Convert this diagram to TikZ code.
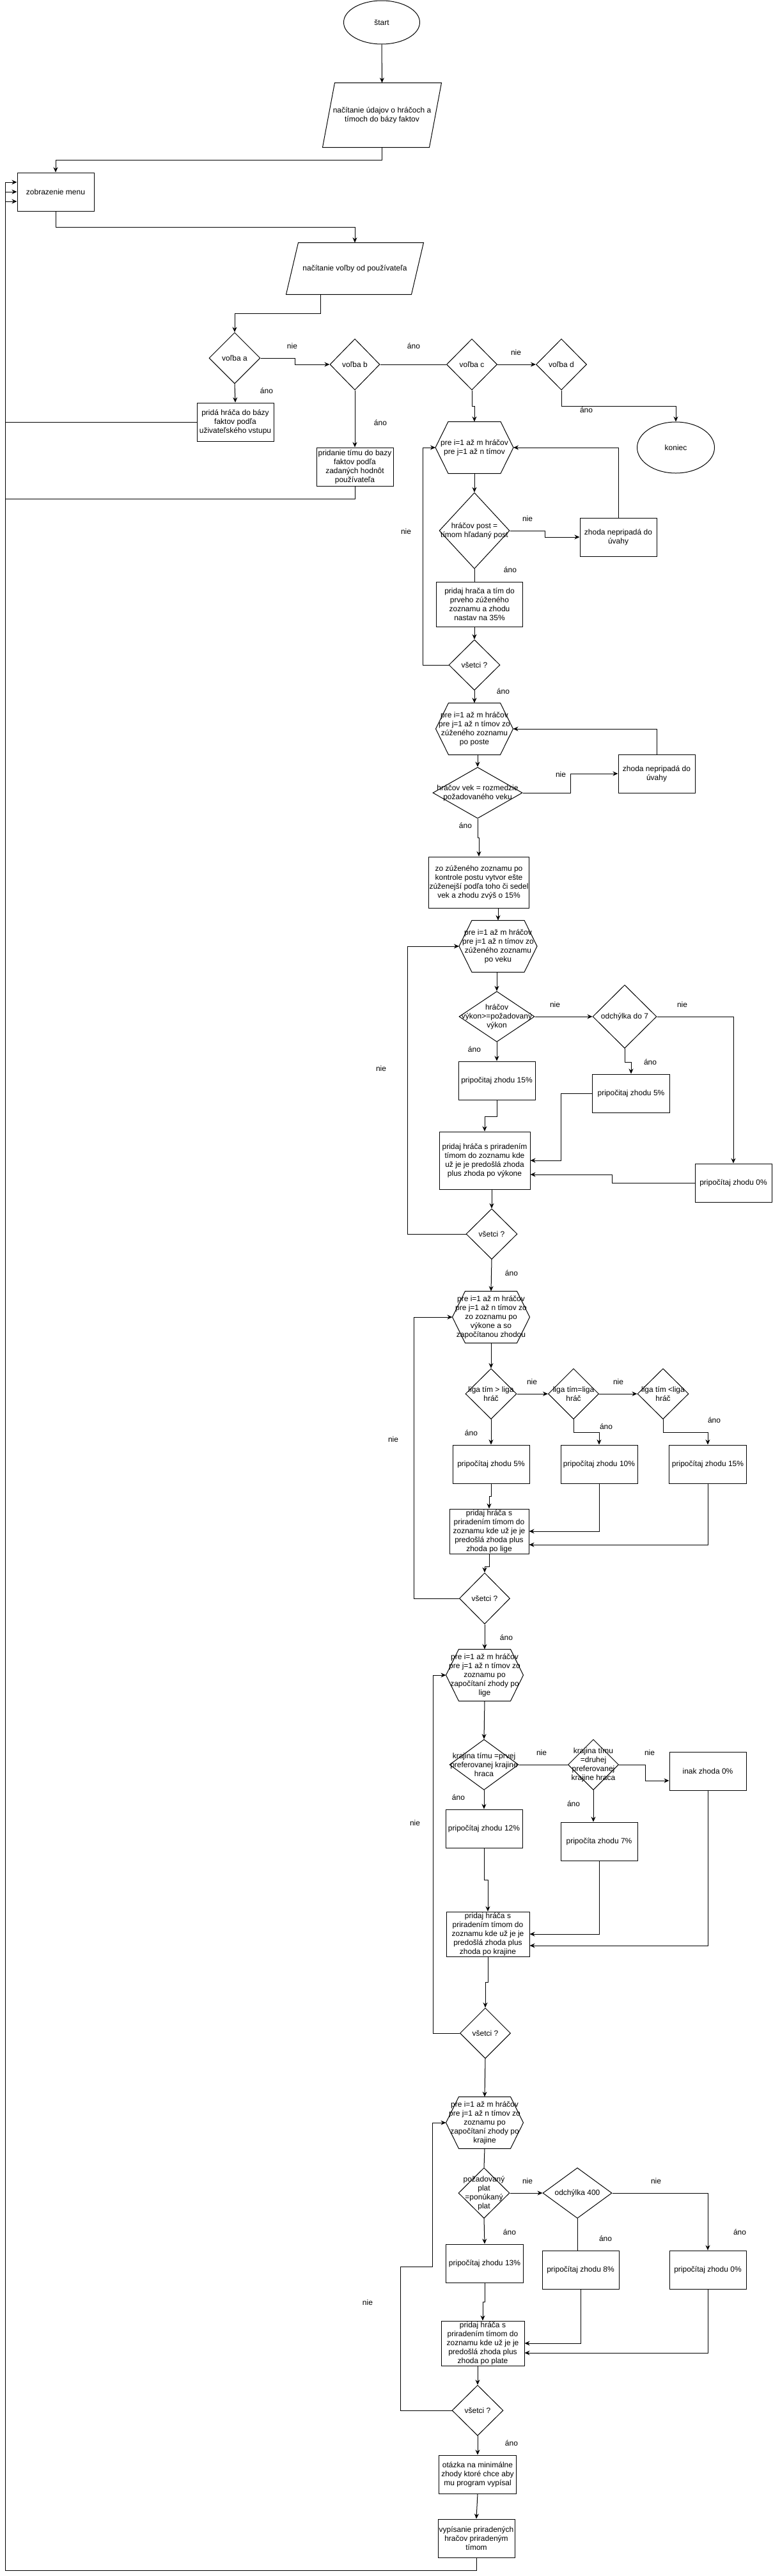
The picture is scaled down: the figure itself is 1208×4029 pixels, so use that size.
\documentclass[tikz,border=0pt]{standalone}
\usepackage{fontspec}
\setmainfont{Liberation Sans}
\usetikzlibrary{shapes.geometric,arrows.meta}
\newcommand\bx[6]{\node[#1,minimum width=#4pt,minimum height=#5pt,label={[txt]center:{#6}}] (#2) at (#3) {};}
\newcommand\hexd[1]{\draw (#1.west) -- ([xshift=20pt]#1.north west) -- ([xshift=-20pt]#1.north east) -- (#1.east) -- ([xshift=-20pt]#1.south east) -- ([xshift=20pt]#1.south west) -- cycle;}
\newcommand\parad[1]{\draw ([xshift=19pt]#1.north west) -- (#1.north east) -- ([xshift=-19pt]#1.south east) -- (#1.south west) -- cycle;}
\begin{document}
\begin{tikzpicture}[x=1pt,y=-1pt,
  font=\fontsize{12}{14}\selectfont,
  line width=1pt,
  arr/.style={-{Stealth[length=8pt,width=7pt]}},
  box/.style={draw,rectangle,inner sep=0pt},
  dia/.style={draw,diamond,inner sep=0pt},
  ell/.style={draw,ellipse,inner sep=0pt},
  ghost/.style={rectangle,inner sep=0pt},
  txt/.style={align=center,inner sep=0pt},
  lab/.style={inner sep=0pt}]
\useasboundingbox (0,0) rectangle (1208,4029);

% ---- nodes ----
\bx{ell}{start}{597,35}{119}{68}{štart}
\bx{ghost}{p1}{597.5,180}{185}{100}{načítanie údajov o hráčoch a\\tímoch do bázy faktov}\parad{p1}
\bx{box}{menu}{87,300}{120}{60}{zobrazenie menu}
\bx{ghost}{p2}{555,420}{214}{80}{načítanie voľby od používateľa}\parad{p2}
\bx{dia}{da}{367,560}{80}{80}{voľba a}
\bx{dia}{db}{555,570}{78}{80}{voľba b}
\bx{dia}{dc}{738,570}{79}{80}{voľba c}
\bx{dia}{dd}{878,570}{79}{80}{voľba d}
\bx{ell}{koniec}{1057,700}{121}{80}{koniec}
\bx{box}{pridaH}{368,660}{120}{60}{pridá hráča do bázy\\faktov podľa\\uživateľského vstupu}
\bx{box}{pridaT}{555,730}{120}{60}{pridanie tímu do bazy\\faktov podľa\\zadaných hodnôt\\používateľa}
\bx{ghost}{h1}{742,700}{121}{80}{pre i=1 až m hráčov\\pre j=1 až n tímov}\hexd{h1}
\bx{dia}{dpost}{742,830}{110}{119}{hráčov post =\\tímom hľadaný post}
\bx{box}{z1}{967,840}{120}{60}{zhoda nepripadá do\\úvahy}
\bx{box}{add35}{750,945}{135}{70}{pridaj hrača a tím do\\prveho zúženého\\zoznamu a zhodu\\nastav na 35\%}
\bx{dia}{all1}{742,1040}{80}{79}{všetci ?}
\bx{ghost}{h2}{742,1140}{120}{80}{pre i=1 až m hráčov\\pre j=1 až n tímov zo\\zúženého zoznamu\\po poste}\hexd{h2}
\bx{dia}{dvek}{747,1240}{140}{80}{hráčov vek = rozmedzie\\požadovaného veku}
\bx{box}{z2}{1027,1210}{120}{60}{zhoda nepripadá do\\úvahy}
\bx{box}{narrow}{749,1380}{157}{80}{zo zúženého zoznamu po\\kontrole postu vytvor ešte\\zúženejší podľa toho či sedel\\vek a zhodu zvýš o 15\%}
\bx{ghost}{h3}{779,1480}{121}{80}{pre i=1 až m hráčov\\pre j=1 až n tímov zo\\zúženého zoznamu\\po veku}\hexd{h3}
\bx{dia}{dvyk}{777,1590}{118}{79}{hráčov\\výkon>=požadovaný\\výkon}
\bx{dia}{dodch}{977,1590}{100}{99}{odchýlka do 7}
\bx{box}{v15}{777,1690}{120}{60}{pripočitaj zhodu 15\%}
\bx{box}{v5}{987,1710}{121}{60}{pripočitaj zhodu 5\%}
\bx{box}{v0}{1147,1850}{120}{60}{pripočítaj zhodu 0\%}
\bx{box}{addV}{758,1815}{142}{90}{pridaj hráča s priradením\\tímom do zoznamu kde\\už je  je predošlá zhoda\\plus zhoda po výkone}
\bx{dia}{all2}{769,1930}{80}{79}{všetci ?}
\bx{ghost}{h4}{768,2060}{120}{80}{pre i=1 až m hráčov\\pre j=1 až n tímov zo\\zo zoznamu po\\výkone a so\\započítanou zhodou}\hexd{h4}
\bx{dia}{dl1}{768,2180}{80}{79}{liga tím > liga\\hráč}
\bx{dia}{dl2}{897,2180}{79}{79}{liga tím=liga\\hráč}
\bx{dia}{dl3}{1037,2180}{80}{79}{liga tím <liga\\hráč}
\bx{box}{l5}{768,2290}{120}{60}{pripočítaj zhodu 5\%}
\bx{box}{l10}{937,2290}{120}{60}{pripočítaj zhodu 10\%}
\bx{box}{l15}{1107,2290}{121}{60}{pripočítaj zhodu 15\%}
\bx{box}{addL}{765,2395}{124}{70}{pridaj hráča s\\priradením tímom do\\zoznamu kde už je  je\\predošlá zhoda plus\\zhoda po lige}
\bx{dia}{all3}{758,2500}{79}{80}{všetci ?}
\bx{ghost}{h5}{758,2620}{120}{80}{pre i=1 až m hráčov\\pre j=1 až n tímov zo\\zoznamu po\\započítaní zhody po\\lige}\hexd{h5}
\bx{dia}{dk1}{757,2760}{108}{79}{krajina tímu =prvej\\preferovanej krajine\\hraca}
\bx{dia}{dk2}{928,2760}{79}{79}{krajina tímu\\=druhej\\preferovanej\\krajine hraca}
\bx{box}{k0}{1107,2770}{120}{60}{inak zhoda 0\%}
\bx{box}{k12}{757,2860}{120}{60}{pripočítaj zhodu 12\%}
\bx{box}{k7}{937,2880}{120}{60}{pripočíta zhodu 7\%}
\bx{box}{addK}{763,3025}{130}{70}{pridaj hráča s\\priradením tímom do\\zoznamu kde už je  je\\predošlá zhoda plus\\zhoda po krajine}
\bx{dia}{all4}{759,3180}{79}{79}{všetci ?}
\bx{ghost}{h6}{758,3320}{120}{80}{pre i=1 až m hráčov\\pre j=1 až n tímov zo\\zoznamu po\\započítaní zhody po\\krajine}\hexd{h6}
\bx{dia}{dplat}{757,3430}{80}{79}{požadovaný\\plat\\=ponúkaný\\plat}
\bx{dia}{d400}{903,3430}{108}{79}{odchýlka 400}
\bx{box}{p13}{758,3540}{121}{60}{pripočítaj zhodu 13\%}
\bx{box}{p8}{908,3550}{120}{60}{pripočítaj zhodu 8\%}
\bx{box}{p0}{1107,3550}{120}{60}{pripočítaj zhodu 0\%}
\bx{box}{addP}{755,3665}{130}{70}{pridaj hráča s\\priradením tímom do\\zoznamu kde už je  je\\predošlá zhoda plus\\zhoda po plate}
\bx{dia}{all5}{747,3770}{80}{79}{všetci ?}
\bx{box}{ask}{747,3870}{121}{60}{otázka na minimálne\\zhody ktoré chce aby\\mu program vypísal}
\bx{box}{outp}{745,3970}{120}{60}{vypísanie priradených\\hračov priradeným\\tímom}

\coordinate (bus) at (8,0);
\coordinate (m1) at ([yshift=15pt]menu.west);
\coordinate (m2) at (menu.west);
\coordinate (m3) at ([yshift=-15pt]menu.west);

% ---- connectors ----
\draw[arr] (start.south) -- (p1.north);
\draw[arr] (p1.south) -- ++(0,20) -| (menu.north);
\draw[arr] (menu.south) -- ++(0,25) -| (p2.north);
\draw[arr] ([xshift=-54pt]p2.south) -- ++(0,30) -| (da.north);
\draw[arr] (da.east) -- ++(54,0) |- (db.west);
\draw (db.east) -- (dc.west);
\draw[arr] (dc.east) -- (dd.west);
\draw[arr] (dd.south) -- ++(0,25) -| (koniec.north);
\draw[arr] (da.south) -- (pridaH.north);
\draw[arr] (db.south) -- (pridaT.north);
\draw[arr] (dc.south) -- ++(0,25) -| (h1.north);
\draw[arr] (h1.south) -- (dpost.north);
\draw[arr] (dpost.east) -- ++(55,0) |- (z1.west);
\draw[arr] (z1.north) |- (h1.east);
\draw (dpost.south) -- (dpost.south |- add35.north);
\draw[arr] (all1.north |- add35.south) -- (all1.north);
\draw[arr] (all1.west) -- ++(-40,0) |- (h1.west);
\draw[arr] (all1.south) -- (h2.north);
\draw[arr] (dvek.north |- h2.south) -- (dvek.north);
\draw[arr] (dvek.east) -- ++(75,0) |- (z2.west);
\draw[arr] (z2.north) |- (h2.east);
\draw[arr] (dvek.south) -- ++(0,30) -| (narrow.north);
\draw[arr] (h3.north |- narrow.south) -- (h3.north);
\draw[arr] (dvyk.north |- h3.south) -- (dvyk.north);
\draw[arr] (dvyk.east) -- (dodch.west);
\draw[arr] (dodch.east) -| (v0.north);
\draw[arr] (dodch.south) -- ++(0,21) -| (v5.north);
\draw[arr] (dvyk.south) -- (v15.north);
\draw[arr] (v15.south) -- ++(0,26) -| (addV.north);
\draw[arr] (v5.west) -- ++(-49,0) |- (addV.east);
\draw[arr] (v0.west) -- ++(-129,0) |- ([yshift=-22pt]addV.east);
\draw[arr] (all2.north |- addV.south) -- (all2.north);
\draw[arr] (all2.west) -- ++(-91,0) |- (h3.west);
\draw[arr] (all2.south) -- (h4.north);
\draw[arr] (h4.south) -- (dl1.north);
\draw[arr] (dl1.east) -- (dl2.west);
\draw[arr] (dl2.east) -- (dl3.west);
\draw[arr] (dl1.south) -- (l5.north);
\draw[arr] (dl2.south) -- ++(0,20) -| (l10.north);
\draw[arr] (dl3.south) -- ++(0,20) -| (l15.north);
\draw[arr] (l5.south) -- ++(0,20) -| (addL.north);
\draw[arr] (l10.south) |- (addL.east);
\draw[arr] (l15.south) |- ([yshift=-21pt]addL.east);
\draw[arr] (addL.south) -- ++(0,20) -| (all3.north);
\draw[arr] (all3.west) -- ++(-71,0) |- (h4.west);
\draw[arr] (all3.south) -- (h5.north);
\draw[arr] (h5.south) -- (dk1.north);
\draw (dk1.east) -- (dk2.west);
\draw[arr] (dk2.east) -- ++(41,0) |- ([yshift=-15pt]k0.west);
\draw[arr] (dk1.south) -- (k12.north);
\draw[arr] (dk2.south) -- (dk2.south |- k7.north);
\draw[arr] (k12.south) -- ++(0,50) -| (addK.north);
\draw[arr] (k7.south) |- (addK.east);
\draw[arr] (k0.south) |- ([yshift=-18pt]addK.east);
\draw[arr] (addK.south) -- ++(0,40) -| (all4.north);
\draw[arr] (all4.west) -- ++(-42,0) |- (h5.west);
\draw[arr] (all4.south) -- (h6.north);
\draw (h6.south) -- (dplat.north);
\draw[arr] (dplat.east) -- (d400.west);
\draw[arr] (d400.east) -| (p0.north);
\draw (d400.south) -- (d400.south |- p8.north);
\draw[arr] (dplat.south) -- (p13.north);
\draw[arr] (p13.south) -- ++(0,30) -| (addP.north);
\draw[arr] (p8.south) |- (addP.east);
\draw[arr] (p0.south) |- ([yshift=-15pt]addP.east);
\draw[arr] (all5.north |- addP.south) -- (all5.north);
\draw[arr] (all5.west) -- ++(-80,0) -- ++(0,-225) -- ++(50,0) |- (h6.west);
\draw[arr] (all5.south) -- (ask.north);
\draw[arr] (ask.south) -- (outp.north);
\draw[arr] (outp.south) -- ++(0,20) -| (bus |- m1) -- (m1);
\draw[arr] (pridaH.west) -| (bus |- m3) -- (m3);
\draw[arr] (pridaT.south) -- ++(0,20) -| (bus |- m2) -- (m2);

% ---- labels ----
\node[lab] (t1) at (457,541) {nie};
\node[lab] (t2) at (647,541) {áno};
\node[lab] (t3) at (807,551) {nie};
\node[lab] (t4) at (917,641) {áno};
\node[lab] (t5) at (417,611) {áno};
\node[lab] (t6) at (595,661) {áno};
\node[lab] (t7) at (825,811) {nie};
\node[lab] (t8) at (798,891) {áno};
\node[lab] (t9) at (635,831) {nie};
\node[lab] (t10) at (787,1081) {áno};
\node[lab] (t11) at (877,1211) {nie};
\node[lab] (t12) at (728,1291) {áno};
\node[lab] (t13) at (868,1571) {nie};
\node[lab] (t14) at (1067,1571) {nie};
\node[lab] (t15) at (1017,1661) {áno};
\node[lab] (t16) at (742,1641) {áno};
\node[lab] (t17) at (596,1671) {nie};
\node[lab] (t18) at (800,1991) {áno};
\node[lab] (t19) at (832,2161) {nie};
\node[lab] (t20) at (967,2161) {nie};
\node[lab] (t21) at (737,2241) {áno};
\node[lab] (t22) at (948,2231) {áno};
\node[lab] (t23) at (1117,2221) {áno};
\node[lab] (t24) at (615,2251) {nie};
\node[lab] (t25) at (792,2561) {áno};
\node[lab] (t26) at (847,2741) {nie};
\node[lab] (t27) at (1016,2741) {nie};
\node[lab] (t28) at (717,2811) {áno};
\node[lab] (t29) at (897,2821) {áno};
\node[lab] (t30) at (649,2851) {nie};
\node[lab] (t31) at (825,3411) {nie};
\node[lab] (t32) at (1026,3411) {nie};
\node[lab] (t33) at (947,3501) {áno};
\node[lab] (t34) at (797,3491) {áno};
\node[lab] (t35) at (1157,3491) {áno};
\node[lab] (t36) at (575,3601) {nie};
\node[lab] (t37) at (800,3821) {áno};
\end{tikzpicture}
\end{document}
